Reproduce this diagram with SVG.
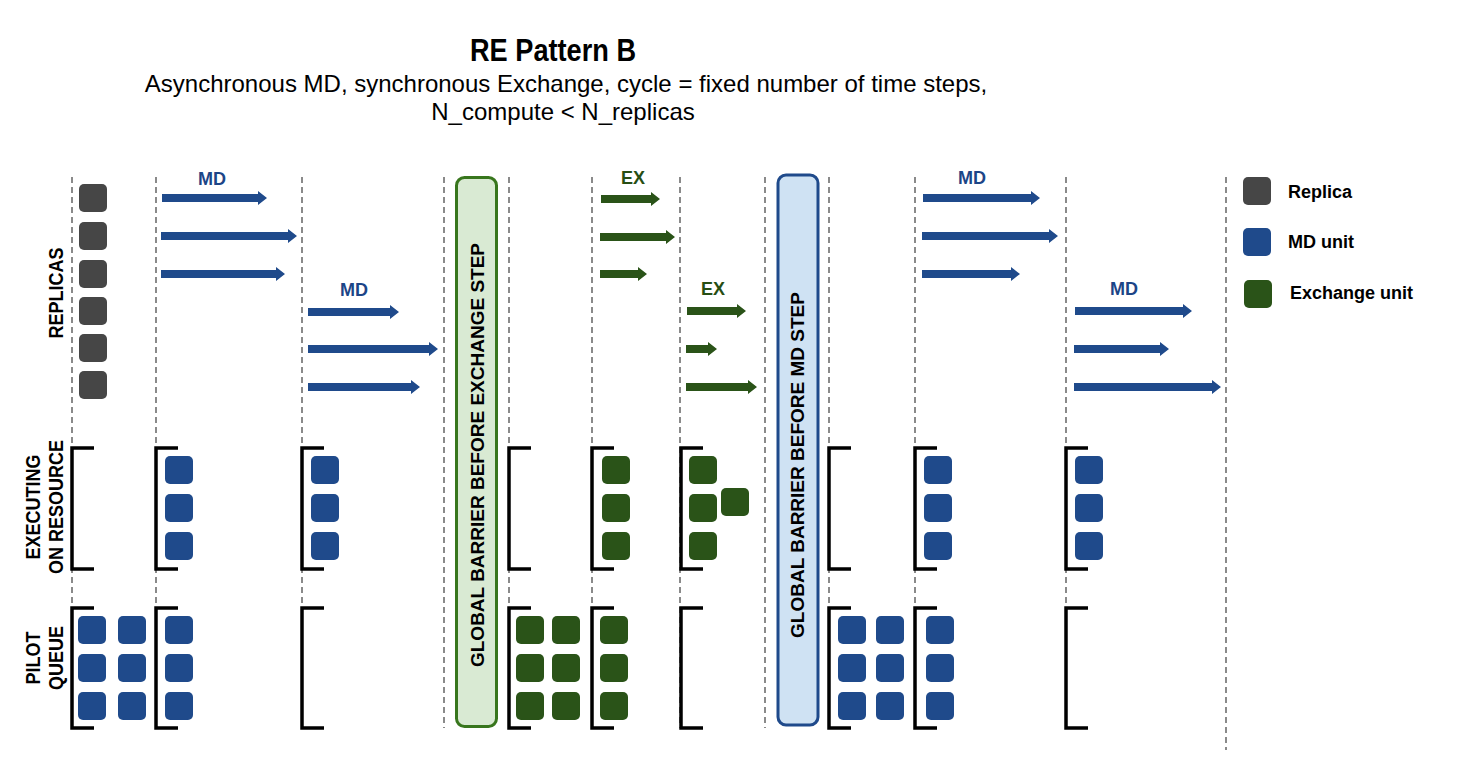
<svg xmlns="http://www.w3.org/2000/svg" width="1465" height="761" viewBox="0 0 1465 761">
<style>
text{font-family:"Liberation Sans",Arial,sans-serif;}
.title{font-size:32px;font-weight:bold;fill:#000;text-anchor:middle;}
.sub{font-size:24px;fill:#000;text-anchor:middle;}
.lbl{font-size:18px;font-weight:bold;fill:#000;text-anchor:middle;}
.bar{font-size:19px;font-weight:bold;fill:#000;text-anchor:middle;}
.leg{font-size:18px;font-weight:bold;fill:#000;}
.md{font-size:18px;font-weight:bold;fill:#1c4587;text-anchor:middle;}
.ex{font-size:18px;font-weight:bold;fill:#274e13;text-anchor:middle;}
.dash{stroke:#8a8a8a;stroke-width:2;stroke-dasharray:6 4;fill:none;}
.br{stroke:#000;stroke-width:3.5;fill:none;}
.rep{fill:#464646;}
.blu{fill:#1f4a8b;}
.grn{fill:#2a5318;}
.ab{fill:#1f4a8b;}
.ag{fill:#2a5318;}
</style>
<rect width="1465" height="761" fill="#fff"/>
<g id="title">
<text class="title" x="553" y="61" textLength="166" lengthAdjust="spacingAndGlyphs">RE Pattern B</text>
<text class="sub" x="566" y="92">Asynchronous MD, synchronous Exchange, cycle = fixed number of time steps,</text>
<text class="sub" x="563" y="120">N_compute &lt; N_replicas</text>
</g>
<g id="grid">
<path class="dash" d="M72 177V728M156 177V728M302 177V728M444 177V728M509 177V728M592 177V728M680 177V728M765 177V728M829 177V728M915 177V728M1066 177V728M1226 177V750"/>
</g>
<g id="row-labels">
<text class="lbl" transform="translate(63,293) rotate(-90) scale(1,1.15)">REPLICAS</text>
<text class="lbl" transform="translate(40,507) rotate(-90) scale(1,1.15)">EXECUTING</text>
<text class="lbl" transform="translate(63,507) rotate(-90) scale(1,1.15)">ON RESOURCE</text>
<text class="lbl" transform="translate(40,658) rotate(-90) scale(1,1.15)">PILOT</text>
<text class="lbl" transform="translate(63,658) rotate(-90) scale(1,1.15)">QUEUE</text>
</g>
<g id="replicas">
<rect class="rep" x="79" y="184" width="28" height="28" rx="5"/>
<rect class="rep" x="79" y="222" width="28" height="28" rx="5"/>
<rect class="rep" x="79" y="260" width="28" height="28" rx="5"/>
<rect class="rep" x="79" y="297" width="28" height="28" rx="5"/>
<rect class="rep" x="79" y="334" width="28" height="28" rx="5"/>
<rect class="rep" x="79" y="371" width="28" height="28" rx="5"/>
</g>
<g id="brackets">
<path class="br" d="M94 448H72V569H94M178 448H156V569H178M324 448H302V569H324M531 448H509V569H531M614 448H592V569H614M703 448H681V569H703M851 448H829V569H851M937 448H915V569H937M1088 448H1066V569H1088"/>
<path class="br" d="M94 608H72V728H94M178 608H156V728H178M324 608H302V728H324M531 608H509V728H531M614 608H592V728H614M703 608H681V728H703M851 608H829V728H851M937 608H915V728H937M1088 608H1066V728H1088"/>
</g>
<g id="executing">
<rect class="blu" x="165" y="456" width="28" height="28" rx="5"/>
<rect class="blu" x="165" y="494" width="28" height="28" rx="5"/>
<rect class="blu" x="165" y="532" width="28" height="28" rx="5"/>
<rect class="blu" x="311" y="456" width="28" height="28" rx="5"/>
<rect class="blu" x="311" y="494" width="28" height="28" rx="5"/>
<rect class="blu" x="311" y="532" width="28" height="28" rx="5"/>
<rect class="grn" x="602" y="456" width="28" height="28" rx="5"/>
<rect class="grn" x="602" y="494" width="28" height="28" rx="5"/>
<rect class="grn" x="602" y="532" width="28" height="28" rx="5"/>
<rect class="grn" x="689" y="456" width="28" height="28" rx="5"/>
<rect class="grn" x="689" y="494" width="28" height="28" rx="5"/>
<rect class="grn" x="689" y="532" width="28" height="28" rx="5"/>
<rect class="grn" x="721" y="488" width="28" height="28" rx="5"/>
<rect class="blu" x="924" y="456" width="28" height="28" rx="5"/>
<rect class="blu" x="924" y="494" width="28" height="28" rx="5"/>
<rect class="blu" x="924" y="532" width="28" height="28" rx="5"/>
<rect class="blu" x="1075" y="456" width="28" height="28" rx="5"/>
<rect class="blu" x="1075" y="494" width="28" height="28" rx="5"/>
<rect class="blu" x="1075" y="532" width="28" height="28" rx="5"/>
</g>
<g id="queue">
<rect class="blu" x="78" y="616" width="28" height="28" rx="5"/>
<rect class="blu" x="78" y="654" width="28" height="28" rx="5"/>
<rect class="blu" x="78" y="692" width="28" height="28" rx="5"/>
<rect class="blu" x="118" y="616" width="28" height="28" rx="5"/>
<rect class="blu" x="118" y="654" width="28" height="28" rx="5"/>
<rect class="blu" x="118" y="692" width="28" height="28" rx="5"/>
<rect class="blu" x="165" y="616" width="28" height="28" rx="5"/>
<rect class="blu" x="165" y="654" width="28" height="28" rx="5"/>
<rect class="blu" x="165" y="692" width="28" height="28" rx="5"/>
<rect class="grn" x="516" y="616" width="28" height="28" rx="5"/>
<rect class="grn" x="516" y="654" width="28" height="28" rx="5"/>
<rect class="grn" x="516" y="692" width="28" height="28" rx="5"/>
<rect class="grn" x="552" y="616" width="28" height="28" rx="5"/>
<rect class="grn" x="552" y="654" width="28" height="28" rx="5"/>
<rect class="grn" x="552" y="692" width="28" height="28" rx="5"/>
<rect class="grn" x="600" y="616" width="28" height="28" rx="5"/>
<rect class="grn" x="600" y="654" width="28" height="28" rx="5"/>
<rect class="grn" x="600" y="692" width="28" height="28" rx="5"/>
<rect class="blu" x="838" y="616" width="28" height="28" rx="5"/>
<rect class="blu" x="838" y="654" width="28" height="28" rx="5"/>
<rect class="blu" x="838" y="692" width="28" height="28" rx="5"/>
<rect class="blu" x="876" y="616" width="28" height="28" rx="5"/>
<rect class="blu" x="876" y="654" width="28" height="28" rx="5"/>
<rect class="blu" x="876" y="692" width="28" height="28" rx="5"/>
<rect class="blu" x="926" y="616" width="28" height="28" rx="5"/>
<rect class="blu" x="926" y="654" width="28" height="28" rx="5"/>
<rect class="blu" x="926" y="692" width="28" height="28" rx="5"/>
</g>
<g id="barrier-exchange">
<rect x="456.5" y="177.5" width="40" height="549" rx="8" fill="#d9ead3" stroke="#38761d" stroke-width="3"/>
<text class="bar" transform="translate(483.5,455) rotate(-90)">GLOBAL BARRIER BEFORE EXCHANGE STEP</text>
</g>
<g id="barrier-md">
<rect x="778" y="175" width="40" height="550" rx="8" fill="#cfe2f3" stroke="#1f4a8b" stroke-width="3"/>
<text class="bar" transform="translate(803.5,465) rotate(-90)">GLOBAL BARRIER BEFORE MD STEP</text>
</g>
<g id="connectors">
<path class="ab" d="M162 194H258V191L267 198L258 205V202H162Z"/>
<path class="ab" d="M161 232H288V229L297 236L288 243V240H161Z"/>
<path class="ab" d="M161 270H276V267L285 274L276 281V278H161Z"/>
<path class="ab" d="M308 308H390V305L399 312L390 319V316H308Z"/>
<path class="ab" d="M308 345H429V342L438 349L429 356V353H308Z"/>
<path class="ab" d="M308 383H411V380L420 387L411 394V391H308Z"/>
<path class="ag" d="M601 195H651V192L660 199L651 206V203H601Z"/>
<path class="ag" d="M600 233H666V230L675 237L666 244V241H600Z"/>
<path class="ag" d="M600 270H638V267L647 274L638 281V278H600Z"/>
<path class="ag" d="M687 307H737V304L746 311L737 318V315H687Z"/>
<path class="ag" d="M686 345H708V342L717 349L708 356V353H686Z"/>
<path class="ag" d="M686 383H748V380L757 387L748 394V391H686Z"/>
<path class="ab" d="M923 194H1031V191L1040 198L1031 205V202H923Z"/>
<path class="ab" d="M922 232H1049V229L1058 236L1049 243V240H922Z"/>
<path class="ab" d="M922 270H1011V267L1020 274L1011 281V278H922Z"/>
<path class="ab" d="M1075 307H1183V304L1192 311L1183 318V315H1075Z"/>
<path class="ab" d="M1074 345H1160V342L1169 349L1160 356V353H1074Z"/>
<path class="ab" d="M1074 383H1212V380L1221 387L1212 394V391H1074Z"/>
<text class="md" x="212" y="184.5">MD</text>
<text class="md" x="354" y="295.5">MD</text>
<text class="ex" x="633" y="183.5">EX</text>
<text class="ex" x="713" y="294.5">EX</text>
<text class="md" x="972" y="183.5">MD</text>
<text class="md" x="1124" y="294.5">MD</text>
</g>
<g id="legend">
<rect class="rep" x="1243" y="177" width="28" height="28" rx="5"/>
<text class="leg" x="1288" y="198">Replica</text>
<rect class="blu" x="1243" y="228" width="28" height="28" rx="5"/>
<text class="leg" x="1288" y="248">MD unit</text>
<rect class="grn" x="1244" y="280" width="28" height="28" rx="5"/>
<text class="leg" x="1290" y="299">Exchange unit</text>
</g>
</svg>
